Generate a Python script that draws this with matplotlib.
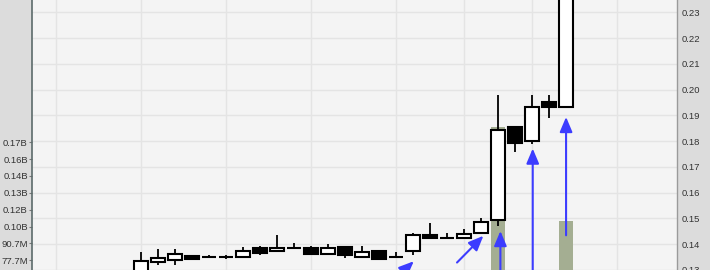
import numpy as np
import matplotlib
matplotlib.use("Agg")
import matplotlib.pyplot as plt

plt.rcParams["font.family"] = ["Liberation Sans", "DejaVu Sans"]

# ---- data ----
opens  = [0.1285, 0.1331, 0.1339, 0.1356, 0.1352, 0.1352, 0.1351, 0.13845, 0.1373, 0.1387,
          0.1387, 0.1363, 0.1391, 0.1351, 0.1372, 0.1352, 0.1372, 0.1436, 0.1426, 0.1425,
          0.1445, 0.1493, 0.1854, 0.1802, 0.1952, 0.1931]
highs  = [0.1370, 0.1383, 0.1383, 0.1358, 0.1360, 0.1360, 0.1391, 0.1394, 0.1435, 0.1403,
          0.1393, 0.14025, 0.1393, 0.1393, 0.1372, 0.1368, 0.1445, 0.1481, 0.1445, 0.1458,
          0.1503, 0.1980, 0.1854, 0.1980, 0.1980, 0.2380]
lows   = [0.1280, 0.1320, 0.1320, 0.1343, 0.1345, 0.1344, 0.1351, 0.1357, 0.1373, 0.1386,
          0.1363, 0.1363, 0.1348, 0.1351, 0.13445, 0.1351, 0.1358, 0.1423, 0.1425, 0.1425,
          0.1445, 0.1471, 0.1758, 0.1787, 0.1890, 0.1931]
closes = [0.1335, 0.1348, 0.1364, 0.1343, 0.1352, 0.1352, 0.1374, 0.1367, 0.1387, 0.1387,
          0.1363, 0.13845, 0.1358, 0.1368, 0.13445, 0.1352, 0.1436, 0.1423, 0.1426, 0.1441,
          0.1485, 0.1845, 0.1791, 0.1933, 0.1931, 0.2380]
volumes = [np.nan] * 21 + [180.3e6, np.nan, np.nan, np.nan, 107.9e6]

price_ticks = [0.13, 0.14, 0.15, 0.16, 0.17, 0.18, 0.19, 0.20, 0.21, 0.22, 0.23]
price_labels = ["0.13", "0.14", "0.15", "0.16", "0.17", "0.18", "0.19", "0.20", "0.21", "0.22", "0.23"]
vol_ticks = [77.7e6, 90.65e6, 103.6e6, 116.55e6, 129.5e6, 142.45e6, 155.4e6, 168.35e6]
vol_labels = ["77.7M", "90.7M", "0.10B", "0.12B", "0.13B", "0.14B", "0.16B", "0.17B"]
week_lines = [-5, 0, 5, 10, 15, 19, 23, 28]

# arrows: (x_start, y_start, x_tip, y_tip) in data coordinates
arrow_x0 = [14.55, 18.59, 21.14, 23.04, 25.0]
arrow_y0 = [0.1240, 0.1329, 0.1250, 0.1250, 0.14346]
arrow_x1 = [16.05, 20.14, 21.14, 23.04, 25.0]
arrow_y1 = [0.1334, 0.14327, 0.14513, 0.17712, 0.18938]

# ---- figure ----
W, H = 710, 270
fig = plt.figure(figsize=(W / 100, H / 100), dpi=100, facecolor="#dcdcdc")
rect = [32 / W, 0.0, (677 - 32) / W, 1.0]

xlim = (-6.39, 31.52)
ylim = (0.1300, 0.23476)
vlim = (70.25e6, 277.6e6)

bg = fig.add_axes(rect, facecolor="#f4f4f4")
bg.set_xlim(*xlim)
bg.set_ylim(*ylim)
bg.set_xticks(week_lines)
bg.set_yticks(price_ticks)
bg.grid(True, color="#e4e4e4", lw=1.0)
bg.tick_params(left=False, bottom=False, labelleft=False, labelbottom=False)
for s in bg.spines.values():
    s.set_visible(False)

vax = fig.add_axes(rect, sharex=bg)
vax.patch.set_visible(False)
x = np.arange(len(opens))
vax.bar(x, volumes, width=0.84, bottom=0, color="#a4ae92", edgecolor="none")
vax.set_ylim(*vlim)
vax.set_yticks(vol_ticks)
vax.set_yticklabels(vol_labels)
vax.tick_params(axis="y", left=True, right=False, labelleft=True, length=2, pad=1,
                labelsize=6.8, labelcolor="#333333", color="#777777")
vax.tick_params(axis="x", bottom=False, labelbottom=False)
for k, s in vax.spines.items():
    s.set_visible(False)
vax.spines["left"].set_visible(True)
vax.spines["left"].set_color("#5c6b6b")
vax.spines["left"].set_linewidth(1.2)

ax = fig.add_axes(rect, sharex=bg)
ax.patch.set_visible(False)
ax.set_ylim(*ylim)
ax.set_xlim(*xlim)

ax.vlines(x, lows, highs, color="black", lw=1.3, zorder=2)
o = np.array(opens)
c = np.array(closes)
up = c >= o
bottoms = np.minimum(o, c)
heights = np.abs(c - o)
face = ["white" if u else "black" for u in up]
ax.bar(x, heights, bottom=bottoms, width=0.82, color=face, edgecolor="black",
       linewidth=1.5, zorder=3)

for xs, ys, xe, ye in zip(arrow_x0, arrow_y0, arrow_x1, arrow_y1):
    ax.annotate("", xy=(xe, ye), xytext=(xs, ys),
                arrowprops=dict(arrowstyle="-|>,head_length=0.9,head_width=0.38",
                                mutation_scale=10, color="#3c3cff", lw=1.5,
                                shrinkA=0, shrinkB=0),
                annotation_clip=False, zorder=4)

ax.yaxis.tick_right()
ax.set_yticks(price_ticks)
ax.set_yticklabels(price_labels)
ax.tick_params(axis="y", right=True, left=False, labelright=True, labelleft=False,
               length=0, pad=3, labelsize=6.8, labelcolor="#333333")
ax.tick_params(axis="x", bottom=False, labelbottom=False)
for k, s in ax.spines.items():
    s.set_visible(False)
ax.spines["right"].set_visible(True)
ax.spines["right"].set_color("#9a9a9a")
ax.spines["right"].set_linewidth(1.0)

fig.savefig("out.png", dpi=100, facecolor=fig.get_facecolor())
